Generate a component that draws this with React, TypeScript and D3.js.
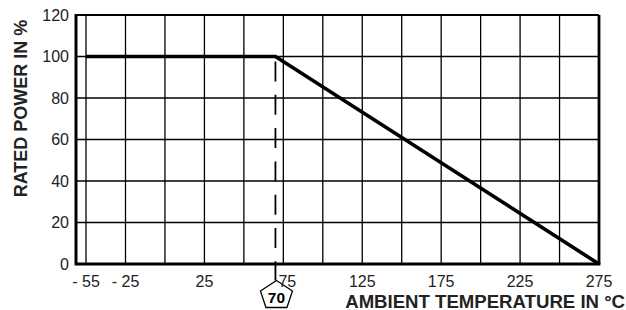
import React from "react";
import * as d3 from "d3";

const W = 626;
const H = 310;

// Derating curve: ambient temperature (°C) -> rated power (%)
const curveTemps = [-55, 70, 275];
const curvePower = [100, 100, 0];

// Grid / tick values
const xGridValues = [-55, -25, 0, 25, 50, 75, 100, 125, 150, 175, 200, 225, 250, 275];
const xTickValues = [-55, -25, 25, 75, 125, 175, 225, 275];
const xTickLabels = ["- 55", "- 25", "25", "75", "125", "175", "225", "275"];
const yTickValues = [0, 20, 40, 60, 80, 100, 120];
const yTickLabels = ["0", "20", "40", "60", "80", "100", "120"];

const markerTemp = 70;
const markerLabel = "70";
const xTitle = "AMBIENT TEMPERATURE IN °C";
const yTitle = "RATED POWER IN %";

const FONT = "'Liberation Sans', Arial, Helvetica, sans-serif";

export default function App() {
  // The original axis is schematic: -55 sits on the first grid line
  const x = d3.scaleLinear().domain([-55, -25, 275]).range([86, 125.5, 599]);
  const y = d3.scaleLinear().domain([0, 120]).range([264, 15]);

  const left = x(-55) - 10;
  const right = x(275);
  const top = y(120);
  const bottom = y(0);

  const line = d3
    .line<number>()
    .x((_, i) => x(curveTemps[i]))
    .y((d) => y(d));
  const path = line(curvePower) || "";

  const mx = x(markerTemp);
  const pcx = mx + 1;
  const pentTop = bottom + 16.5;
  const pent = [
    [pcx, pentTop],
    [pcx + 16, pentTop + 10.5],
    [pcx + 10.5, pentTop + 27],
    [pcx - 10.5, pentTop + 27],
    [pcx - 16, pentTop + 10.5],
  ]
    .map((p) => p.join(","))
    .join(" ");

  return (
    <svg
      width={W}
      height={H}
      viewBox={`0 0 ${W} ${H}`}
      style={{ position: "absolute", left: 0, top: 0, background: "#fff" }}
      fontFamily={FONT}
    >
      <rect x={0} y={0} width={W} height={H} fill="#fff" />
      {/* grid */}
      {xGridValues.map((v) => (
        <line key={"gx" + v} x1={x(v)} x2={x(v)} y1={top} y2={bottom} stroke="#000" strokeWidth={1.3} />
      ))}
      {yTickValues.map((v) => (
        <line key={"gy" + v} x1={left} x2={right} y1={y(v)} y2={y(v)} stroke="#000" strokeWidth={1.3} />
      ))}
      {/* dashed marker line */}
      <line
        x1={mx}
        x2={mx}
        y1={y(100) + 5}
        y2={pentTop}
        stroke="#000"
        strokeWidth={1.8}
        strokeDasharray="20,13.3"
        fill="none"
      />
      {/* frame */}
      <line x1={left} x2={right} y1={top} y2={top} stroke="#000" strokeWidth={1.8} />
      <line x1={right} x2={right} y1={top} y2={bottom} stroke="#000" strokeWidth={2.8} />
      <line x1={left} x2={left} y1={top - 0.9} y2={bottom + 1.4} stroke="#000" strokeWidth={3} />
      <line x1={left} x2={right + 1.4} y1={bottom} y2={bottom} stroke="#000" strokeWidth={3} />
      {/* curve */}
      <path d={path} fill="none" stroke="#000" strokeWidth={3.6} strokeLinejoin="miter" />
      {/* pentagon marker */}
      <polygon points={pent} fill="#fff" stroke="#000" strokeWidth={1.3} />
      <text x={pcx} y={pentTop + 22.5} textAnchor="middle" fontSize={15.5} fontWeight="bold" fill="#000">
        {markerLabel}
      </text>
      {/* y tick labels */}
      {yTickValues.map((v, i) => (
        <text key={"yl" + v} x={left - 7} y={y(v)} dy="0.36em" textAnchor="end" fontSize={16} fill="#222">
          {yTickLabels[i]}
        </text>
      ))}
      {/* x tick labels */}
      {xTickValues.map((v, i) => (
        <text
          key={"xl" + v}
          x={x(v) + (v === 75 ? 4 : 0)}
          y={bottom + 23}
          textAnchor="middle"
          fontSize={16}
          fill="#222"
        >
          {xTickLabels[i]}
        </text>
      ))}
      {/* titles */}
      <text x={625} y={307.5} textAnchor="end" fontSize={18.6} fontWeight="bold" fill="#222">
        {xTitle}
      </text>
      <text
        transform={`translate(26.5, ${(17 + 200) / 2}) rotate(-90)`}
        textAnchor="middle"
        fontSize={18}
        fontWeight="bold"
        fill="#222"
      >
        {yTitle}
      </text>
    </svg>
  );
}
